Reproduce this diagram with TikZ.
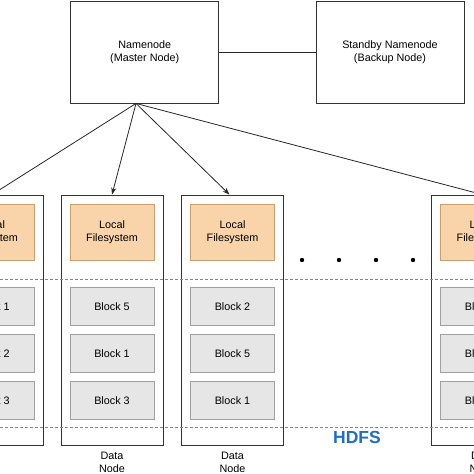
\documentclass[tikz,border=0pt]{standalone}
\usepackage{fontspec}
\setmainfont{Liberation Sans}
\usetikzlibrary{arrows.meta,positioning}
\definecolor{fsfill}{HTML}{F9D4AA}
\definecolor{fsdraw}{HTML}{C99E6C}
\definecolor{blkfill}{HTML}{E6E6E6}
\definecolor{blkdraw}{HTML}{A0A0A0}
\definecolor{hdfsblue}{HTML}{1E6EC8}
\definecolor{dashblue}{HTML}{4F94CF}

\begin{document}
\begin{tikzpicture}[x=1pt,y=-1pt,font=\fontsize{10.8}{13}\selectfont,
		master/.style={draw=black!80,line width=0.9pt,minimum width=148pt,minimum height=102pt,align=center},
		datanode/.style={draw=black!80,line width=0.9pt,minimum width=102pt,minimum height=250.5pt},
		localfs/.style={draw=fsdraw,fill=fsfill,line width=0.8pt,minimum width=84pt,minimum height=56pt,align=center},
		blockbox/.style={draw=blkdraw,fill=blkfill,line width=0.8pt,minimum width=84pt,minimum height=37.3pt},
		hdfsline/.style={draw=dashblue,dash pattern=on 3pt off 2pt,line width=0.8pt},
		link/.style={line width=0.8pt,black!85}]
		\useasboundingbox (0,0) rectangle (474,474);
		\clip (0,0) rectangle (474,474);
		\node[master] (nn) at (144.7,52) {Namenode\\(Master Node)};
		\node[master] (snn) at (390,52) {Standby Namenode\\(Backup Node)};
		\draw[link] (nn) -- (snn);
		\foreach \i/\x/\a/\b/\c in {1/-8/1/2/3, 2/112/5/1/3, 3/232.5/2/5/1, 4/482.5/4/2/5} {
			\node[datanode] (d\i) at (\x,320.3) {};
			\node[localfs] (fs\i) at (\x,232) {Local\\Filesystem};
			\node[blockbox] (ba\i) at (\x,306.3) {Block \a};
			\node[blockbox,below=9pt of ba\i] (bb\i) {Block \b};
			\node[blockbox,below=9pt of bb\i] (bc\i) {Block \c};
		}
		\foreach \i in {2,3,4}
			\node[align=center,below=3pt of d\i] (lbl\i) {Data\\Node};
		\coordinate (src) at ([xshift=-8.7pt]nn.south);
		\draw[link] (src) -- (d1.north);
		\draw[link,-{Stealth[length=7pt,width=5pt]}] (src) -- (d2.north);
		\draw[link,-{Stealth[length=7pt,width=5pt]}] (src) -- ([xshift=-3pt]d3.north);
		\draw[link] (src) -- (d4.north);
		\draw[hdfsline] (0,279) -- (474,279);
		\draw[hdfsline] (0,427) -- (474,427);
		\foreach \x in {302,339,376,413} \fill (\x,260) circle (2.2pt);
		\node[text=hdfsblue,font=\bfseries\fontsize{17.5}{20}\selectfont] (hdfs) at (357,437.5) {HDFS};
	\end{tikzpicture}
\end{document}
